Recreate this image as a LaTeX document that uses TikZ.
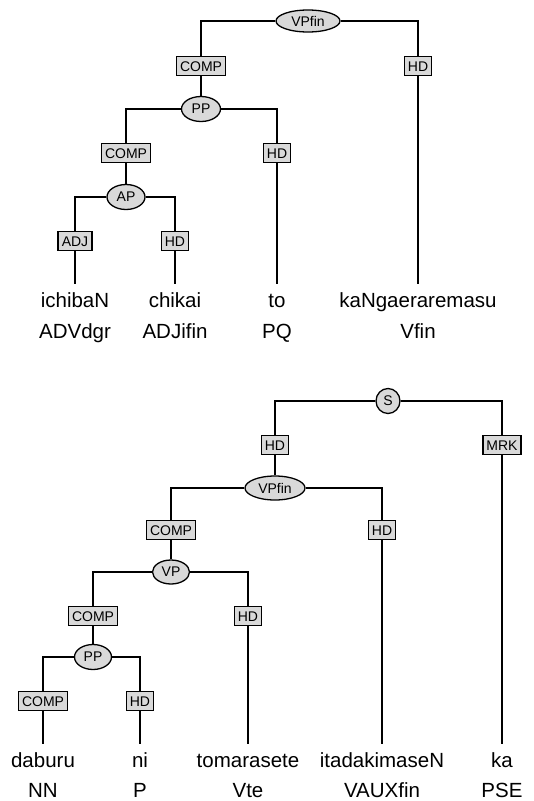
\documentclass[tikz,border=0pt]{standalone}
\usepackage{fontspec}
\setmainfont{Liberation Sans}
\usetikzlibrary{shapes.geometric}
\definecolor{nodegray}{HTML}{D9D9D9}
\begin{document}
\begin{tikzpicture}[x=1pt,y=-1pt,
  every node/.style={font=\fontsize{14}{16}\selectfont},
  cat/.style={ellipse, draw, fill=nodegray, line width=1.3pt, inner sep=0pt},
  fn/.style={rectangle, draw, fill=nodegray, line width=1.4pt, inner xsep=3.6pt, inner ysep=0pt, minimum height=19.5pt, text height=10pt, text depth=0pt},
  word/.style={font=\fontsize{20.5}{24}\selectfont, anchor=base, inner xsep=0pt, inner ysep=8pt, text height=15pt, text depth=0pt},
  tag/.style={font=\fontsize{20.5}{24}\selectfont, anchor=base, inner sep=0pt},
  edge/.style={line width=1.3pt}]
\useasboundingbox (0,0) rectangle (534,801);

% ---------- upper tree ----------
\node[cat, minimum width=64pt, minimum height=22pt] (t0) at (308,21) {VPfin};
\node[fn] (t0c) at (201,66) {COMP};
\node[fn] (t0h) at (418,66) {HD};
\node[cat, minimum width=39pt, minimum height=25pt] (t1) at (201,109) {PP};
\node[fn] (t1c) at (126,153) {COMP};
\node[fn] (t1h) at (277,153) {HD};
\node[cat, minimum width=38pt, minimum height=25pt] (t2) at (126,197) {AP};
\node[fn] (t2a) at (75,241) {ADJ};
\node[fn] (t2h) at (175,241) {HD};

\node[word] (w1) at (75,307) {ichibaN};
\node[word] (w2) at (175,307) {chikai};
\node[word] (w3) at (277,307) {to};
\node[word] (w4) at (418,307) {kaNgaeraremasu};
\node[tag] (g1) at (75,338) {ADVdgr};
\node[tag] (g2) at (175,338) {ADJifin};
\node[tag] (g3) at (277,338) {PQ};
\node[tag] (g4) at (418,338) {Vfin};

\draw[edge] (t0.west) -| (t0c.north) (t0c.south) -- (t1.north);
\draw[edge] (t0.east) -| (t0h.north) (t0h.south) -- (w4.north);
\draw[edge] (t1.west) -| (t1c.north) (t1c.south) -- (t2.north);
\draw[edge] (t1.east) -| (t1h.north) (t1h.south) -- (w3.north);
\draw[edge] (t2.west) -| (t2a.north) (t2a.south) -- (w1.north);
\draw[edge] (t2.east) -| (t2h.north) (t2h.south) -- (w2.north);

% ---------- lower tree ----------
\node[cat, minimum width=24pt, minimum height=25pt] (b0) at (388,401) {S};
\node[fn] (b0h) at (275,445) {HD};
\node[fn] (b0m) at (502,445) {MRK};
\node[cat, minimum width=60pt, minimum height=24pt] (b1) at (275,488) {VPfin};
\node[fn] (b1c) at (171,530) {COMP};
\node[fn] (b1h) at (382,530) {HD};
\node[cat, minimum width=37pt, minimum height=24pt] (b2) at (171,572) {VP};
\node[fn] (b2c) at (93,616) {COMP};
\node[fn] (b2h) at (248,616) {HD};
\node[cat, minimum width=37pt, minimum height=25pt] (b3) at (93,657) {PP};
\node[fn] (b3c) at (43,701) {COMP};
\node[fn] (b3h) at (140,701) {HD};

\node[word] (v1) at (43,767) {daburu};
\node[word] (v2) at (140,767) {ni};
\node[word] (v3) at (248,767) {tomarasete};
\node[word] (v4) at (382,767) {itadakimaseN};
\node[word] (v5) at (502,767) {ka};
\node[tag] (h1) at (43,797.5) {NN};
\node[tag] (h2) at (140,797.5) {P};
\node[tag] (h3) at (248,797.5) {Vte};
\node[tag] (h4) at (382,797.5) {VAUXfin};
\node[tag] (h5) at (502,797.5) {PSE};

\draw[edge] (b0.west) -| (b0h.north) (b0h.south) -- (b1.north);
\draw[edge] (b0.east) -| (b0m.north) (b0m.south) -- (v5.north);
\draw[edge] (b1.west) -| (b1c.north) (b1c.south) -- (b2.north);
\draw[edge] (b1.east) -| (b1h.north) (b1h.south) -- (v4.north);
\draw[edge] (b2.west) -| (b2c.north) (b2c.south) -- (b3.north);
\draw[edge] (b2.east) -| (b2h.north) (b2h.south) -- (v3.north);
\draw[edge] (b3.west) -| (b3c.north) (b3c.south) -- (v1.north);
\draw[edge] (b3.east) -| (b3h.north) (b3h.south) -- (v2.north);
\end{tikzpicture}
\end{document}
